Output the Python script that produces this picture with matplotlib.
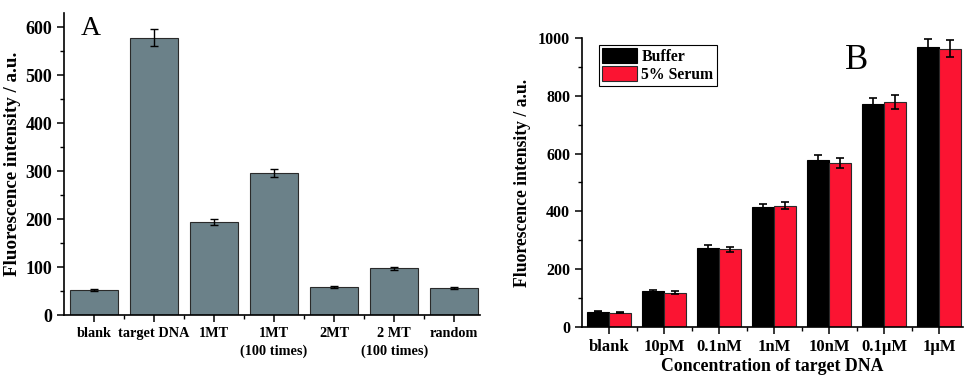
import matplotlib.pyplot as plt
import numpy as np
from matplotlib.ticker import MultipleLocator, FixedLocator

plt.rcParams['font.family'] = 'Liberation Serif'
plt.rcParams['font.weight'] = 'bold'

# panel A data
cats_a = ['blank', 'target DNA', '1MT', '1MT\n(100 times)', '2MT', '2 MT\n(100 times)', 'random']
vals_a = [52, 578, 194, 296, 58, 97, 57]
errs_a = [2, 18, 6, 9, 2, 4, 2]

# panel B data
cats_b = ['blank', '10pM', '0.1nM', '1nM', '10nM', '0.1\u03bcM', '1\u03bcM']
buffer_vals = [53, 124, 274, 414, 579, 771, 969]
buffer_errs = [2, 4, 9, 12, 17, 23, 28]
serum_vals = [49, 119, 269, 420, 567, 779, 963]
serum_errs = [2, 4, 9, 13, 18, 24, 30]

fig = plt.figure(figsize=(9.73, 3.8), dpi=100)

def style_axes(ax):
    ax.spines['top'].set_visible(False)
    ax.spines['right'].set_visible(False)
    for s in ['left', 'bottom']:
        ax.spines[s].set_linewidth(1.2)
    ax.tick_params(which='major', direction='out', length=5, width=1.1)
    ax.tick_params(which='minor', direction='out', length=3, width=1.0)

# ---- A ----
axA = fig.add_axes([0.0658, 0.171, 0.4275, 0.7956])
x = np.arange(len(cats_a))
axA.bar(x, vals_a, width=0.8, color='#6b8189', edgecolor='#2a2a2a', linewidth=0.8,
        yerr=errs_a, error_kw=dict(ecolor='black', elinewidth=1, capsize=3, capthick=1))
axA.set_xlim(-0.5, 6.43)
axA.set_ylim(0, 630)
axA.set_xticks(x)
axA.set_xticklabels(cats_a, fontsize=10.3, fontweight='bold', linespacing=1.45)
axA.xaxis.set_minor_locator(FixedLocator(x[:-1] + 0.5))
axA.yaxis.set_major_locator(MultipleLocator(100))
axA.yaxis.set_minor_locator(MultipleLocator(50))
style_axes(axA)
for lbl in axA.get_yticklabels():
    lbl.set_fontsize(13)
    lbl.set_fontweight('bold')
axA.set_ylabel('Fluorescence intensity / a.u.', fontsize=13.7, fontweight='bold', labelpad=3)
axA.text(0.04, 0.926, 'A', transform=axA.transAxes, fontsize=20, fontweight='normal',
         va='baseline', ha='left')

# ---- B ----
axB = fig.add_axes([0.598, 0.1395, 0.3916, 0.7605])
xb = np.arange(len(cats_b))
w = 0.4
axB.bar(xb - w / 2, buffer_vals, width=w, color='black', edgecolor='black', linewidth=0.8,
        yerr=buffer_errs, error_kw=dict(ecolor='black', elinewidth=1.2, capsize=3, capthick=1.2),
        label='Buffer')
axB.bar(xb + w / 2, serum_vals, width=w, color='#fb1432', edgecolor='#2a2a2a', linewidth=0.8,
        yerr=serum_errs, error_kw=dict(ecolor='black', elinewidth=1.2, capsize=3, capthick=1.2),
        label='5% Serum')
axB.set_xlim(-0.5, 6.43)
axB.set_ylim(0, 1000)
axB.set_xticks(xb)
axB.set_xticklabels(cats_b, fontsize=12, fontweight='bold')
axB.xaxis.set_minor_locator(FixedLocator(xb[:-1] + 0.5))
axB.yaxis.set_major_locator(MultipleLocator(200))
axB.yaxis.set_minor_locator(MultipleLocator(100))
style_axes(axB)
for lbl in axB.get_yticklabels():
    lbl.set_fontsize(11.5)
    lbl.set_fontweight('bold')
axB.set_ylabel('Fluorescence intensity / a.u.', fontsize=12.7, fontweight='bold', labelpad=5)
axB.set_xlabel('Concentration of target DNA', fontsize=12.8, fontweight='bold', labelpad=2)
leg = axB.legend(loc='upper left', bbox_to_anchor=(0.045, 0.976), fontsize=11.3,
                 handlelength=2.2, handleheight=1.05, handletextpad=0.3, labelspacing=0.1,
                 borderpad=0.2, borderaxespad=0, fancybox=False, edgecolor='black', framealpha=1)
leg.get_frame().set_linewidth(0.8)
axB.text(0.69, 0.922, 'B', transform=axB.transAxes, fontsize=25, fontweight='normal',
         va='center', ha='left')

fig.savefig('out.png', dpi=100)
